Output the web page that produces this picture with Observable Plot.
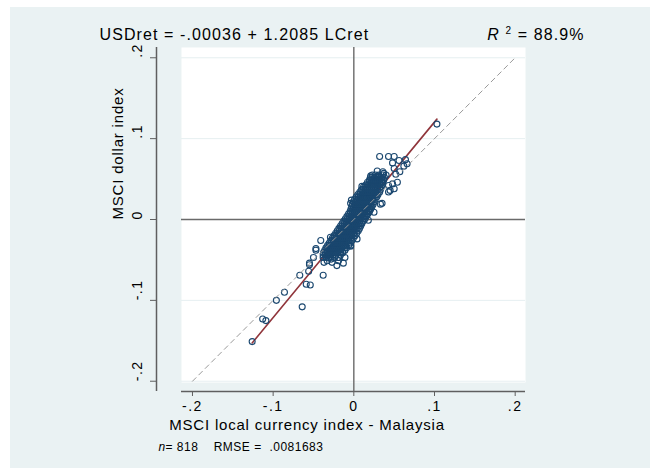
<!DOCTYPE html>
<html>
<head>
<meta charset="utf-8">
<script src="https://cdn.jsdelivr.net/npm/d3@7"></script>
<script src="https://cdn.jsdelivr.net/npm/@observablehq/plot@0.6"></script>
<style>
  body { margin: 0; background: white; }
  #wrap { position: relative; width: 656px; height: 468px; overflow: hidden; }
  #bg { position: absolute; left: 10px; top: 7px; width: 640px; height: 461px; background: #eaf2f3; }
  #chart { position: absolute; left: 0; top: 0; }
  g[aria-label="x-axis tick label"] text, g[aria-description="ytick"] text { letter-spacing: 1.5px; }
  g[aria-description="title"] text, g[aria-description="rsq"] text { letter-spacing: 1.1px; }
  g[aria-description="axis-title"] text { letter-spacing: 0.8px; }
  g[aria-description="note"] text { letter-spacing: 0.5px; }
</style>
</head>
<body>
<div id="wrap"><div id="bg"></div><div id="chart"></div></div>
<script>
// ---- data ----
// dense core of observations, read row by row (USDret of each row, LCret values in it)
const coreRowY = [
  0.055, 0.052, 0.049, 0.046, 0.043, 0.040, 0.037, 0.034, 0.031,
  0.028, 0.025, 0.022, 0.019, 0.016, 0.013, 0.010, 0.007, 0.004, 0.001,
  -0.002, -0.005, -0.008, -0.011, -0.014, -0.017, -0.020, -0.023, -0.026, -0.029,
  -0.032, -0.035, -0.038, -0.041, -0.044, -0.047
];
const coreRowX = [
  [0.023,0.027,0.031,0.036,0.040],
  [0.0205,0.023,0.0255,0.028,0.0305,0.033,0.0355,0.038],
  [0.0195,0.022,0.0245,0.027,0.0295,0.032,0.0345,0.037],
  [0.017,0.0195,0.022,0.0245,0.027,0.0295,0.032,0.0345,0.036],
  [0.015,0.0175,0.020,0.0225,0.025,0.0275,0.030,0.0325,0.035],
  [0.012,0.0145,0.017,0.0195,0.022,0.0245,0.027,0.0295,0.032,0.034],
  [0.0095,0.012,0.0145,0.017,0.0195,0.022,0.0245,0.027,0.0295,0.033],
  [0.0075,0.010,0.0125,0.015,0.0175,0.020,0.0225,0.025,0.0275,0.030,0.032],
  [0.005,0.0075,0.010,0.0125,0.015,0.0175,0.020,0.0225,0.025,0.0275,0.030],
  [0.003,0.0055,0.008,0.0105,0.013,0.0155,0.018,0.0205,0.023,0.0255,0.0285],
  [0.001,0.0035,0.006,0.0085,0.011,0.0135,0.016,0.0185,0.021,0.0235,0.0265],
  [-0.0005,0.002,0.0045,0.007,0.0095,0.012,0.0145,0.017,0.0195,0.022,0.025],
  [-0.0015,0.001,0.0035,0.006,0.0085,0.011,0.0135,0.016,0.0185,0.021,0.024],
  [-0.0025,0.000,0.0025,0.005,0.0075,0.010,0.0125,0.015,0.0175,0.020,0.0225],
  [-0.0035,-0.001,0.0015,0.004,0.0065,0.009,0.0115,0.014,0.0165,0.019,0.021],
  [-0.0045,-0.002,0.0005,0.003,0.0055,0.008,0.0105,0.013,0.0155,0.018,0.0195],
  [-0.0065,-0.004,-0.0015,0.001,0.0035,0.006,0.0085,0.011,0.0135,0.016,0.0175],
  [-0.0085,-0.006,-0.0035,-0.001,0.0015,0.004,0.0065,0.009,0.0115,0.014,0.0155],
  [-0.0105,-0.008,-0.0055,-0.003,-0.0005,0.002,0.0045,0.007,0.0095,0.012,0.014],
  [-0.0125,-0.010,-0.0075,-0.005,-0.0025,0.000,0.0025,0.005,0.0075,0.0115],
  [-0.0145,-0.012,-0.0095,-0.007,-0.0045,-0.002,0.0005,0.003,0.0055,0.008,0.010],
  [-0.0165,-0.014,-0.0115,-0.009,-0.0065,-0.004,-0.0015,0.001,0.0035,0.006,0.0085],
  [-0.0185,-0.016,-0.0135,-0.011,-0.0085,-0.006,-0.0035,-0.001,0.0015,0.004,0.007],
  [-0.0205,-0.018,-0.0155,-0.013,-0.0105,-0.008,-0.0055,-0.003,-0.0005,0.002,0.0055],
  [-0.0225,-0.020,-0.0175,-0.015,-0.0125,-0.010,-0.0075,-0.005,-0.0025,0.000,0.0035],
  [-0.0245,-0.022,-0.0195,-0.017,-0.0145,-0.012,-0.0095,-0.007,-0.0045,-0.002,0.0015],
  [-0.0265,-0.024,-0.0215,-0.019,-0.0165,-0.014,-0.0115,-0.009,-0.0065,-0.004,-0.0005],
  [-0.0285,-0.026,-0.0235,-0.021,-0.0185,-0.016,-0.0135,-0.011,-0.0085,-0.006,-0.0025],
  [-0.0305,-0.028,-0.0255,-0.023,-0.0205,-0.018,-0.0155,-0.013,-0.0105,-0.008,-0.0045],
  [-0.0325,-0.030,-0.0275,-0.025,-0.0225,-0.020,-0.0175,-0.015,-0.0125,-0.010,-0.0065],
  [-0.0345,-0.032,-0.0295,-0.027,-0.0245,-0.022,-0.0195,-0.017,-0.0145,-0.0115,-0.009],
  [-0.036,-0.0335,-0.031,-0.0285,-0.026,-0.0235,-0.021,-0.0185,-0.016,-0.011],
  [-0.0375,-0.035,-0.0325,-0.030,-0.0275,-0.025,-0.0225,-0.020,-0.0165,-0.0135],
  [-0.038,-0.0355,-0.033,-0.0305,-0.028,-0.0255,-0.022,-0.0165],
  [-0.038,-0.034,-0.029,-0.024,-0.019]
];
// scattered observations
const lcretOut = [
  -0.126,-0.113,-0.109,-0.096,-0.086,-0.064,-0.067,-0.059,-0.054,-0.056,
  -0.055,-0.038,-0.050,-0.021,-0.013,-0.019,-0.047,-0.055,-0.028,-0.014,
  -0.004,-0.011,0.025,0.033,0.043,-0.004,-0.003,0.103,0.032,0.043,
  0.050,0.048,0.056,0.064,0.066,0.062,0.057,0.050,0.052,0.021,
  0.010,0.054,0.045,0.035,0.043,0.037,0.031,0.048,0.050,-0.029,
  -0.041,-0.047,0.004,-0.031,-0.019,0.018,-0.004,0.029,0.036,-0.037,
  -0.027,-0.033
];
const usdretOut = [
  -0.151,-0.123,-0.125,-0.100,-0.090,-0.108,-0.069,-0.080,-0.081,-0.064,
  -0.056,-0.069,-0.047,-0.057,-0.054,-0.051,-0.038,-0.054,-0.049,-0.040,
  -0.033,-0.047,0.009,0.019,0.034,0.020,0.024,0.118,0.078,0.078,
  0.078,0.070,0.073,0.074,0.069,0.066,0.059,0.063,0.056,0.054,
  0.041,0.046,0.036,0.020,0.042,0.057,0.054,0.044,0.038,-0.022,
  -0.026,-0.036,-0.024,-0.047,-0.047,-0.001,-0.032,0.060,0.059,-0.053,
  -0.053,-0.051
];
const fitIntercept = -0.00036;
const fitSlope = 1.2085;
const xTicks = [-0.2, -0.1, 0, 0.1, 0.2];
const yTicks = [-0.2, -0.1, 0, 0.1, 0.2];
const tickLabels = ["-.2", "-.1", "0", ".1", ".2"];
const titleText = "USDret = -.00036 + 1.2085 LCret";
const rsqText = "= 88.9%";
const xTitle = "MSCI local currency index - Malaysia";
const yTitle = "MSCI dollar index";
const noteText = "= 818\u00a0\u00a0\u00a0\u00a0RMSE =\u00a0\u00a0.0081683";

// ---- build ----
const points = coreRowX.flatMap((row, i) => row.map(x => ({x, y: coreRowY[i]})))
  .concat(lcretOut.map((x, i) => ({x, y: usdretOut[i]})));
const fitLine = d3.extent(points, d => d.x).map(x => ({x, y: fitIntercept + fitSlope * x}));
const diag = d3.extent(xTicks).map(v => ({x: v, y: v}));
const fmt = d => tickLabels[xTicks.findIndex(t => Math.abs(t - d) < 1e-9)];
const xDomain = [-0.2446, 0.2128];
const yDomain = [-0.2127, 0.2127];
const axisCol = "#5f5f5f";

const chart = Plot.plot({
  width: 656, height: 468,
  marginLeft: 156, marginRight: 131, marginTop: 47, marginBottom: 77,
  x: {domain: xDomain},
  y: {domain: yDomain},
  style: {background: "transparent", fontFamily: "'Liberation Sans', Arial, sans-serif", color: "black", overflow: "visible"},
  marks: [
    Plot.frame({fill: "white", stroke: null, insetLeft: 25, insetBottom: 9}),
    Plot.gridY(yTicks, {stroke: "#e6eff1", strokeOpacity: 1, strokeWidth: 1, insetLeft: 25}),
    Plot.ruleY([0], {stroke: "#6a6a6a", strokeWidth: 1.4, insetLeft: 25}),
    Plot.ruleX([0], {stroke: "#6a6a6a", strokeWidth: 1.4}),
    Plot.line(fitLine, {x: "x", y: "y", stroke: "#90353b", strokeWidth: 1.6}),
    Plot.dot(points, {x: "x", y: "y", r: 3, stroke: "#1a476f", strokeWidth: 1.1, fill: "none"}),
    Plot.line(diag, {x: "x", y: "y", stroke: "#9a9a9a", strokeWidth: 1, strokeDasharray: "5,4"}),
    Plot.ruleY([yDomain[0]], {stroke: axisCol, strokeWidth: 1.5, insetLeft: 25}),
    Plot.ruleX([xDomain[0]], {stroke: axisCol, strokeWidth: 1.5}),
    Plot.axisX({ticks: xTicks, tickFormat: fmt, tickSize: 5, tickPadding: 5, fontSize: 14, stroke: axisCol, fill: "black", label: null}),
    Plot.axisY({ticks: yTicks, tickFormat: () => "", tickSize: 6, stroke: axisCol, label: null}),
    Plot.text(yTicks, {y: d => d, text: fmt, frameAnchor: "left", dx: -19, rotate: -90, fontSize: 14, fill: "black", ariaDescription: "ytick"}),
    Plot.text([titleText], {text: d => d, frameAnchor: "top-left", dx: -57, dy: -13, textAnchor: "start", lineAnchor: "middle", fontSize: 16, fill: "black", ariaDescription: "title"}),
    Plot.text(["R"], {text: d => d, frameAnchor: "top-right", dx: -38.3, dy: -13, textAnchor: "start", lineAnchor: "middle", fontSize: 16, fontStyle: "italic", fill: "black", ariaDescription: "rsq"}),
    Plot.text(["2"], {text: d => d, frameAnchor: "top-right", dx: -20, dy: -17, textAnchor: "start", lineAnchor: "middle", fontSize: 10, fill: "black"}),
    Plot.text([rsqText], {text: d => d, frameAnchor: "top-right", dx: 59, dy: -13, textAnchor: "end", lineAnchor: "middle", fontSize: 16, fill: "black", ariaDescription: "rsq"}),
    Plot.text([yTitle], {text: d => d, frameAnchor: "left", dx: -38, dy: 0, rotate: -90, fontSize: 15, fill: "black", ariaDescription: "axis-title"}),
    Plot.text([xTitle], {text: d => d, frameAnchor: "bottom", dx: -34, dy: 34, lineAnchor: "middle", fontSize: 15, fill: "black", ariaDescription: "axis-title"}),
    Plot.text(["n"], {text: d => d, frameAnchor: "bottom-left", dx: 2, dy: 55.5, textAnchor: "start", lineAnchor: "middle", fontSize: 12, fontStyle: "italic", fill: "black", ariaDescription: "note"}),
    Plot.text([noteText], {text: d => d, frameAnchor: "bottom-left", dx: 9, dy: 55.5, textAnchor: "start", lineAnchor: "middle", fontSize: 12, fill: "black", ariaDescription: "note"})
  ]
});
document.getElementById("chart").appendChild(chart);
</script>
</body>
</html>
